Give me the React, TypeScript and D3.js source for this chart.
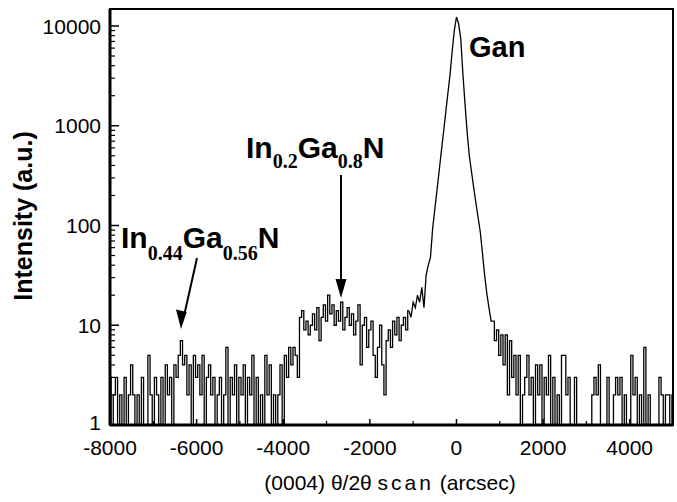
import React from "react";
import * as d3 from "d3";

const scanStep = 50;

// background, left wing: -8000 .. -4150
const leftStart = -8000;
const leftCounts = [
  3, 1, 2, 3, 1, 2, 1, 3, 1, 2,
  4, 2, 1, 2, 1, 3, 1, 1, 5, 2,
  1, 3, 2, 1, 3, 1, 4, 2, 3, 1,
  4, 3, 5, 7, 4, 5, 2, 4, 1, 5,
  3, 4, 2, 5, 1, 3, 4, 2, 3, 1,
  2, 3, 1, 2, 6, 1, 3, 2, 4, 1,
  3, 2, 4, 1, 3, 2, 5, 1, 3, 1,
  2, 1, 5, 2, 4, 1, 2, 1,
];

// shoulder before the InGaN hump: -4100 .. -3650
const shoulderStart = -4100;
const shoulderCounts = [2, 4, 1, 5, 3, 6, 4, 6, 5, 3];

// In0.2Ga0.8N hump: -3600 .. -1150
const humpStart = -3600;
const humpCounts = [
  12, 14, 9, 11, 8, 10, 13, 9, 15, 7,
  12, 16, 11, 20, 13, 16, 10, 14, 11, 17,
  9, 12, 15, 10, 13, 8, 11, 16, 4, 10,
  12, 6, 9, 11, 5, 3, 6, 10, 4, 2,
  7, 9, 6, 11, 8, 12, 7, 10, 12, 9,
];

// GaN peak: -1100 .. 800
const ganStart = -1100;
const ganCounts = [
  14, 12, 17, 15, 20, 17, 24, 15, 32, 40,
  48, 93, 145, 225, 350, 550, 850, 1330, 2080, 3200,
  5500, 9000, 12300, 10500, 7400, 3240, 1600, 824, 487, 339,
  237, 167, 120, 86, 53, 32, 21, 15, 11,
];

// background, right wing: 850 .. 5000
const rightStart = 850;
const rightCounts = [
  11, 7, 9, 5, 8, 4, 8, 2, 7, 3,
  5, 2, 5, 1, 2, 3, 5, 2, 3, 1,
  4, 2, 4, 1, 3, 2, 5, 1, 3, 1,
  2, 1, 5, 5, 2, 3, 1, 1, 3, 1,
  1, 1, 1, 1, 1, 1, 2, 3, 2, 4,
  1, 1, 1, 3, 1, 1, 2, 3, 2, 3,
  1, 2, 1, 1, 5, 2, 3, 1, 2, 1,
  6, 1, 2, 1, 1, 1, 1, 3, 2, 1,
  2, 2, 1, 2,
];

const xTicks = [-8000, -6000, -4000, -2000, 0, 2000, 4000];
const xMinorTicks = [-7000, -5000, -3000, -1000, 1000, 3000];
const yTicks = [1, 10, 100, 1000, 10000];

const W = 677;
const H = 502;
const plot = { left: 110, right: 673, top: 9, bottom: 425 };

type Pt = { x: number; y: number };
const toPoints = (start: number, counts: number[]): Pt[] =>
  counts.map((c, i) => ({ x: start + i * scanStep, y: c }));

const leftPts = [
  ...toPoints(leftStart, leftCounts),
  ...toPoints(shoulderStart, shoulderCounts),
  ...toPoints(humpStart, humpCounts),
];
const peakPts = toPoints(ganStart, ganCounts);
const rightPts = toPoints(rightStart, rightCounts);

const App = () => {
  const x = d3.scaleLinear().domain([-8000, 5000]).range([plot.left, plot.right]);
  const y = d3.scaleLog().domain([1, 14800]).range([plot.bottom, plot.top]).clamp(true);

  // noisy wings as a step trace, the peak as a plain polyline
  const stepLine = d3
    .line<Pt>()
    .x((d) => x(d.x))
    .y((d) => y(d.y))
    .curve(d3.curveStep);
  const peakLine = d3
    .line<Pt>()
    .x((d) => x(d.x))
    .y((d) => y(d.y));

  const minorY: number[] = [];
  yTicks.forEach((t) => {
    for (let k = 2; k <= 9; k++) if (t * k < 14800) minorY.push(t * k);
  });

  const font = "'Liberation Sans', Arial, sans-serif";
  const serif = "'Liberation Serif', 'Times New Roman', serif";

  return (
    <svg
      width={W}
      height={H}
      style={{ position: "absolute", left: 0, top: 0, background: "#fff" }}
    >
      {/* curve */}
      <g fill="none" stroke="#000" strokeWidth={1.3}>
        <path d={stepLine([...leftPts, peakPts[0]]) || ""} />
        <path d={peakLine([...peakPts, rightPts[0]]) || ""} />
        <path d={stepLine(rightPts) || ""} />
      </g>

      {/* frame */}
      <rect
        x={plot.left}
        y={plot.top}
        width={plot.right - plot.left}
        height={plot.bottom - plot.top}
        fill="none"
        stroke="#000"
        strokeWidth={2}
      />
      <line x1={plot.left} x2={plot.left} y1={plot.top} y2={plot.bottom} stroke="#000" strokeWidth={3} />
      <line x1={plot.left} x2={plot.right} y1={plot.bottom} y2={plot.bottom} stroke="#000" strokeWidth={3} />

      {/* y ticks */}
      {yTicks.map((t) => (
        <g key={"y" + t}>
          <line x1={plot.left} x2={plot.left + 9} y1={y(t)} y2={y(t)} stroke="#000" strokeWidth={1.5} />
          <text
            x={plot.left - 9}
            y={y(t) - (t === 1 ? 3 : 0)}
            dy="0.36em"
            textAnchor="end"
            fontFamily={font}
            fontSize={21}
          >
            {t}
          </text>
        </g>
      ))}
      {minorY.map((t) => (
        <line key={"ym" + t} x1={plot.left} x2={plot.left + 5} y1={y(t)} y2={y(t)} stroke="#000" strokeWidth={1.2} />
      ))}

      {/* x ticks */}
      {xTicks.map((t) => (
        <g key={"x" + t}>
          <line x1={x(t)} x2={x(t)} y1={plot.bottom} y2={plot.bottom - 6} stroke="#000" strokeWidth={1.5} />
          <text x={x(t)} y={455} textAnchor="middle" fontFamily={font} fontSize={21}>
            {t}
          </text>
        </g>
      ))}
      {xMinorTicks.map((t) => (
        <line key={"xm" + t} x1={x(t)} x2={x(t)} y1={plot.bottom} y2={plot.bottom - 4} stroke="#000" strokeWidth={1.2} />
      ))}

      {/* axis titles */}
      <text x={390} y={490} textAnchor="middle" fontFamily={font} fontSize={21}>
        (0004) θ/2θ <tspan letterSpacing={3}>scan</tspan> (arcsec)
      </text>
      <text
        transform="translate(32,216) rotate(-90)"
        textAnchor="middle"
        fontFamily={font}
        fontSize={25}
        fontWeight="bold"
      >
        Intensity (a.u.)
      </text>

      {/* annotations */}
      <text x={469} y={57} fontFamily={font} fontSize={29} fontWeight="bold">
        Gan
      </text>

      <text x={246} y={158} fontFamily={font} fontSize={30} fontWeight="bold">
        In
        <tspan fontFamily={serif} fontSize={20} dy={10}>0.2</tspan>
        <tspan dy={-10}>Ga</tspan>
        <tspan fontFamily={serif} fontSize={20} dy={10}>0.8</tspan>
        <tspan dy={-10}>N</tspan>
      </text>

      <text x={121} y={248} fontFamily={font} fontSize={30} fontWeight="bold">
        In
        <tspan fontFamily={serif} fontSize={20} dy={12}>0.44</tspan>
        <tspan dy={-12}>Ga</tspan>
        <tspan fontFamily={serif} fontSize={20} dy={12}>0.56</tspan>
        <tspan dy={-12}>N</tspan>
      </text>

      {/* arrows */}
      <line x1={341} y1={175} x2={341} y2={285} stroke="#000" strokeWidth={2} />
      <path d="M335.5,279 L346.5,279 L341,298 z" fill="#000" />
      <line x1={197} y1={258} x2={184} y2={316} stroke="#000" strokeWidth={2} />
      <path d="M176,309.5 L186.7,311.9 L181,329 z" fill="#000" />
    </svg>
  );
};

export default App;
